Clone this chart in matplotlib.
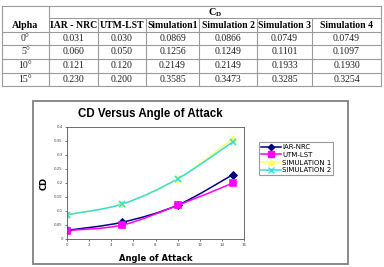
import numpy as np
import matplotlib
matplotlib.use("Agg")
import matplotlib.pyplot as plt
from matplotlib.path import Path
import matplotlib.patches as patches
from matplotlib.lines import Line2D

######################################################################
# Data
######################################################################

alpha = [0, 5, 10, 15]
alpha_labels = ["0°", "5°", "10°", "15°"]
col_names = ["IAR - NRC", "UTM-LST", "Simulation1", "Simulation 2", "Simulation 3", "Simulation 4"]
iar_nrc = [0.031, 0.060, 0.121, 0.230]
utm_lst = [0.030, 0.050, 0.120, 0.200]
sim1 = [0.0869, 0.1256, 0.2149, 0.3585]
sim2 = [0.0866, 0.1249, 0.2149, 0.3473]
sim3 = [0.0749, 0.1101, 0.1933, 0.3285]
sim4 = [0.0749, 0.1097, 0.1930, 0.3254]
cell_text = [["0.031", "0.030", "0.0869", "0.0866", "0.0749", "0.0749"],
             ["0.060", "0.050", "0.1256", "0.1249", "0.1101", "0.1097"],
             ["0.121", "0.120", "0.2149", "0.2149", "0.1933", "0.1930"],
             ["0.230", "0.200", "0.3585", "0.3473", "0.3285", "0.3254"]]

legend_names = ["IAR-NRC", "UTM-LST", "SIMULATION 1", "SIMULATION 2"]

W, H = 384, 267
fig = plt.figure(figsize=(W / 100, H / 100), dpi=100)

######################################################################
# Table (pixel coordinates)
######################################################################

tab = fig.add_axes([0, 0, 1, 1])
tab.set_xlim(0, W)
tab.set_ylim(H, 0)
tab.axis("off")

col_edges = [2, 49, 98, 146, 199, 257, 312, 381]
row_edges = [6, 18, 32, 45, 59, 73, 86]
gcol = "#9a9a9a"
serif = "Liberation Serif"

# outer border + horizontal lines
tab.plot([col_edges[0], col_edges[-1]], [row_edges[0]] * 2, color=gcol, lw=0.8)
tab.plot([col_edges[0], col_edges[-1]], [row_edges[-1]] * 2, color=gcol, lw=0.8)
tab.plot([col_edges[1], col_edges[-1]], [row_edges[1]] * 2, color=gcol, lw=0.8)
for y in row_edges[2:-1]:
    tab.plot([col_edges[0], col_edges[-1]], [y, y], color=gcol, lw=0.8)
tab.plot([col_edges[0]] * 2, [row_edges[0], row_edges[-1]], color=gcol, lw=0.8)
tab.plot([col_edges[-1]] * 2, [row_edges[0], row_edges[-1]], color=gcol, lw=0.8)
tab.plot([col_edges[1]] * 2, [row_edges[0], row_edges[-1]], color=gcol, lw=0.8)
for x in col_edges[2:-1]:
    tab.plot([x, x], [row_edges[1], row_edges[-1]], color=gcol, lw=0.8)

tab.text((col_edges[1] + col_edges[-1]) / 2, 12.5, r"C$_\mathregular{D}$", ha="center", va="center",
         fontsize=7.3, fontweight="bold", family=serif)
tab.text((col_edges[0] + col_edges[1]) / 2, 25.5, "Alpha", ha="center", va="center",
         fontsize=7.2, fontweight="bold", family=serif)
for j, name in enumerate(col_names):
    tab.text((col_edges[j + 1] + col_edges[j + 2]) / 2, 25.5, name, ha="center", va="center",
             fontsize=7.0, fontweight="bold", family=serif)
for i, lab in enumerate(alpha_labels):
    yc = (row_edges[i + 2] + row_edges[i + 3]) / 2
    tab.text((col_edges[0] + col_edges[1]) / 2, yc, lab, ha="center", va="center",
             fontsize=7.0, family=serif, color="#222222")
    for j, txt in enumerate(cell_text[i]):
        tab.text((col_edges[j + 1] + col_edges[j + 2]) / 2, yc, txt, ha="center", va="center",
                 fontsize=7.0, family=serif, color="#222222")

# chart frame
tab.add_patch(patches.Rectangle((33, 101), 315, 163, fill=False, ec="#808080", lw=1.3))
tab.text(150, 114, "CD Versus Angle of Attack", ha="center", va="center",
         fontsize=8.3, fontweight="bold", family="Liberation Sans")

######################################################################
# Chart
######################################################################

ax = fig.add_axes([67 / W, 1 - 239 / H, 177 / W, 112 / H])


def smooth_path(xs, ys):
    # Excel-style smoothed line: cubic Bezier through the points
    P = np.column_stack([xs, ys]).astype(float)
    n = len(P)
    verts = [P[0]]
    codes = [Path.MOVETO]
    for i in range(n - 1):
        p_prev = P[i - 1] if i > 0 else P[i]
        p_next2 = P[i + 2] if i + 2 < n else P[i + 1]
        c1 = P[i] + (P[i + 1] - p_prev) / 6
        c2 = P[i + 1] - (p_next2 - P[i]) / 6
        verts += [c1, c2, P[i + 1]]
        codes += [Path.CURVE4] * 3
    return Path(verts, codes)


series = [
    (iar_nrc, "#000080", "D", 3.5),
    (utm_lst, "#FF00FF", "s", 5),
    (sim1, "#FFFF66", "^", 5),
    (sim2, "#33DDDD", "x", 4.5),
]

for vals, col, mk, ms in series:
    ax.add_patch(patches.PathPatch(smooth_path(alpha, vals), fill=False, ec=col, lw=1.1))
    ax.plot(alpha, vals, ls="none", marker=mk, color=col, ms=ms, mew=1.2)

ax.set_xlim(0, 16)
ax.set_ylim(0, 0.4)
ax.set_xticks(np.arange(0, 17, 2))
ax.set_yticks(np.arange(0, 0.41, 0.05))
ax.set_yticklabels(["0", "0.05", "0.1", "0.15", "0.2", "0.25", "0.3", "0.35", "0.4"])
ax.tick_params(labelsize=2.8, length=1.5, width=0.5, pad=1.5, colors="#444444")
for s in ax.spines.values():
    s.set_color("#555555")
    s.set_linewidth(0.6)
ax.set_xlabel("Angle of Attack", fontsize=6, fontweight="bold", labelpad=5)
ax.set_ylabel("CD", fontsize=6, fontweight="bold", labelpad=4)

handles = [Line2D([], [], color=c, marker=m, ms=ms * 0.9, mew=1.0, lw=1.1) for _, c, m, ms in series]
leg = fig.legend(handles, legend_names, loc="upper left", bbox_to_anchor=(259 / W, 1 - 142 / H),
                 fontsize=5, frameon=True, fancybox=False, edgecolor="#808080",
                 handlelength=2.8, handletextpad=0.2, borderpad=0.3, labelspacing=0.25,
                 borderaxespad=0)
leg.get_frame().set_linewidth(0.8)

plt.savefig("out.png", dpi=100)
